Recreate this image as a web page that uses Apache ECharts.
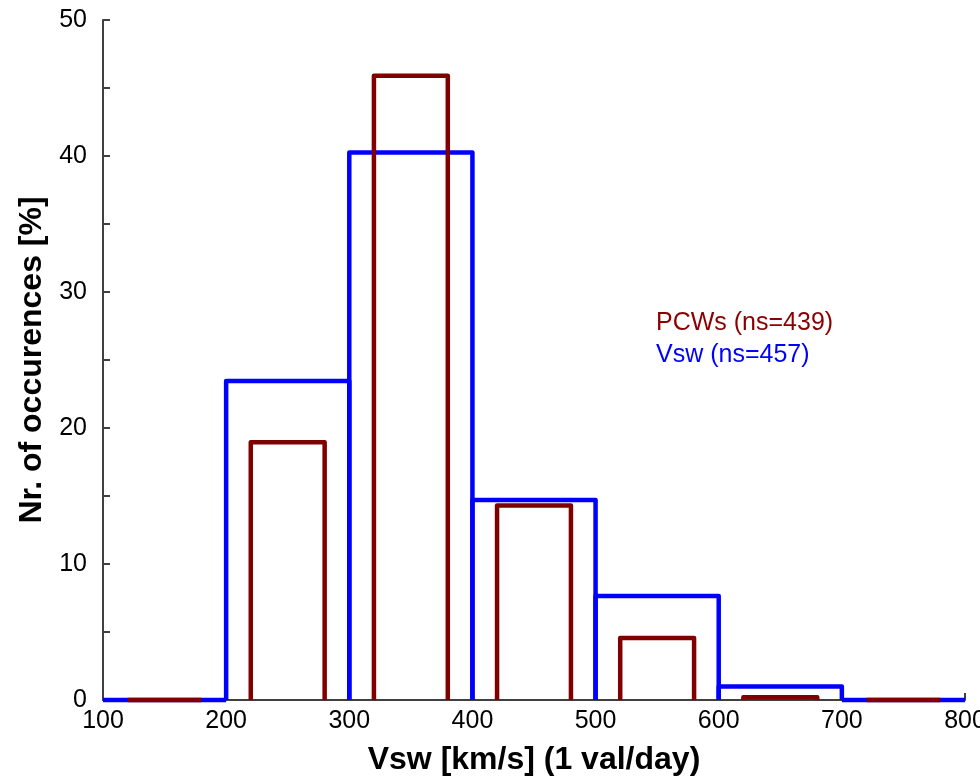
<!DOCTYPE html>
<html>
<head>
<meta charset="utf-8">
<script src="https://cdn.jsdelivr.net/npm/echarts@6/dist/echarts.min.js"></script>
<style>
  html, body { margin: 0; padding: 0; background: #fff; }
  #chart { width: 980px; height: 777px; }
</style>
</head>
<body>
<div id="chart"></div>
<script>
// Vsw histogram, 100 km/s bins
var vswStart = [100, 200, 300, 400, 500, 600, 700];
var vswEnd   = [200, 300, 400, 500, 600, 700, 800];
var vswPct   = [0, 23.45, 40.25, 14.7, 7.65, 1.0, 0];

// PCWs histogram, narrower bars inside the same bins
var pcwStart = [120, 220, 320, 420, 520, 620, 720];
var pcwEnd   = [180, 280, 380, 480, 580, 680, 780];
var pcwPct   = [0, 18.95, 45.9, 14.3, 4.55, 0.2, 0];

var xTicks = [100, 200, 300, 400, 500, 600, 700, 800];
var yTicks = [0, 10, 20, 30, 40, 50];

function toData(s, e, v) {
    var out = [];
    for (var i = 0; i < s.length; i++) {
        out.push([s[i], e[i], v[i]]);
    }
    return out;
}

// outline of one bar: left side, top, right side (no bottom edge)
function barOutline(color) {
    return function (params, api) {
        var p0 = api.coord([api.value(0), 0]);
        var p1 = api.coord([api.value(0), api.value(2)]);
        var p2 = api.coord([api.value(1), api.value(2)]);
        var p3 = api.coord([api.value(1), 0]);
        return {
            type: 'polyline',
            shape: { points: [p0, p1, p2, p3] },
            style: {
                fill: null,
                stroke: color,
                lineWidth: 4.5,
                lineJoin: 'round',
                lineCap: 'butt'
            }
        };
    };
}

var myChart = echarts.init(document.getElementById('chart'), null, { renderer: 'canvas' });

myChart.setOption({
    backgroundColor: '#ffffff',
    animation: false,
    grid: {
        left: 103,
        right: 15,
        top: 20,
        bottom: 77,
        containLabel: false,
        outerBoundsMode: 'none'
    },
    xAxis: {
        type: 'value',
        min: xTicks[0],
        max: xTicks[xTicks.length - 1],
        interval: 100,
        name: 'Vsw [km/s] (1 val/day)',
        nameLocation: 'middle',
        nameGap: 44,
        nameTextStyle: {
            color: '#000',
            fontFamily: 'Liberation Sans',
            fontWeight: 'bold',
            fontSize: 32
        },
        axisLine: { show: true, onZero: false, lineStyle: { color: '#404040', width: 2 } },
        axisTick: { show: true, inside: true, length: 7, lineStyle: { color: '#404040', width: 2 } },
        axisLabel: {
            color: '#000',
            fontFamily: 'Liberation Sans',
            fontSize: 25,
            margin: 9
        },
        splitLine: { show: false }
    },
    yAxis: {
        type: 'value',
        min: yTicks[0],
        max: yTicks[yTicks.length - 1],
        interval: 10,
        name: 'Nr. of occurences [%]',
        nameLocation: 'middle',
        nameGap: 52,
        nameTextStyle: {
            color: '#000',
            fontFamily: 'Liberation Sans',
            fontWeight: 'bold',
            fontSize: 32
        },
        axisLine: { show: true, lineStyle: { color: '#404040', width: 2 } },
        axisTick: { show: true, inside: true, length: 7, lineStyle: { color: '#404040', width: 2 } },
        minorTick: { show: true, splitNumber: 2, length: 7, lineStyle: { color: '#404040', width: 2 } },
        axisLabel: {
            color: '#000',
            fontFamily: 'Liberation Sans',
            fontSize: 25,
            margin: 16
        },
        splitLine: { show: false }
    },
    graphic: [
        {
            type: 'text',
            left: 656,
            top: 311,
            style: {
                text: 'PCWs (ns=439)',
                fill: '#8b0000',
                font: '25px "Liberation Sans"'
            }
        },
        {
            type: 'text',
            left: 656,
            top: 343,
            style: {
                text: 'Vsw (ns=457)',
                fill: '#0000ff',
                font: '25px "Liberation Sans"'
            }
        }
    ],
    series: [
        {
            name: 'Vsw',
            type: 'custom',
            clip: false,
            renderItem: barOutline('#0000ff'),
            encode: { x: [0, 1], y: 2 },
            data: toData(vswStart, vswEnd, vswPct),
            z: 3
        },
        {
            name: 'PCWs',
            type: 'custom',
            clip: false,
            renderItem: barOutline('#800000'),
            encode: { x: [0, 1], y: 2 },
            data: toData(pcwStart, pcwEnd, pcwPct),
            z: 4
        }
    ]
});
</script>
</body>
</html>
